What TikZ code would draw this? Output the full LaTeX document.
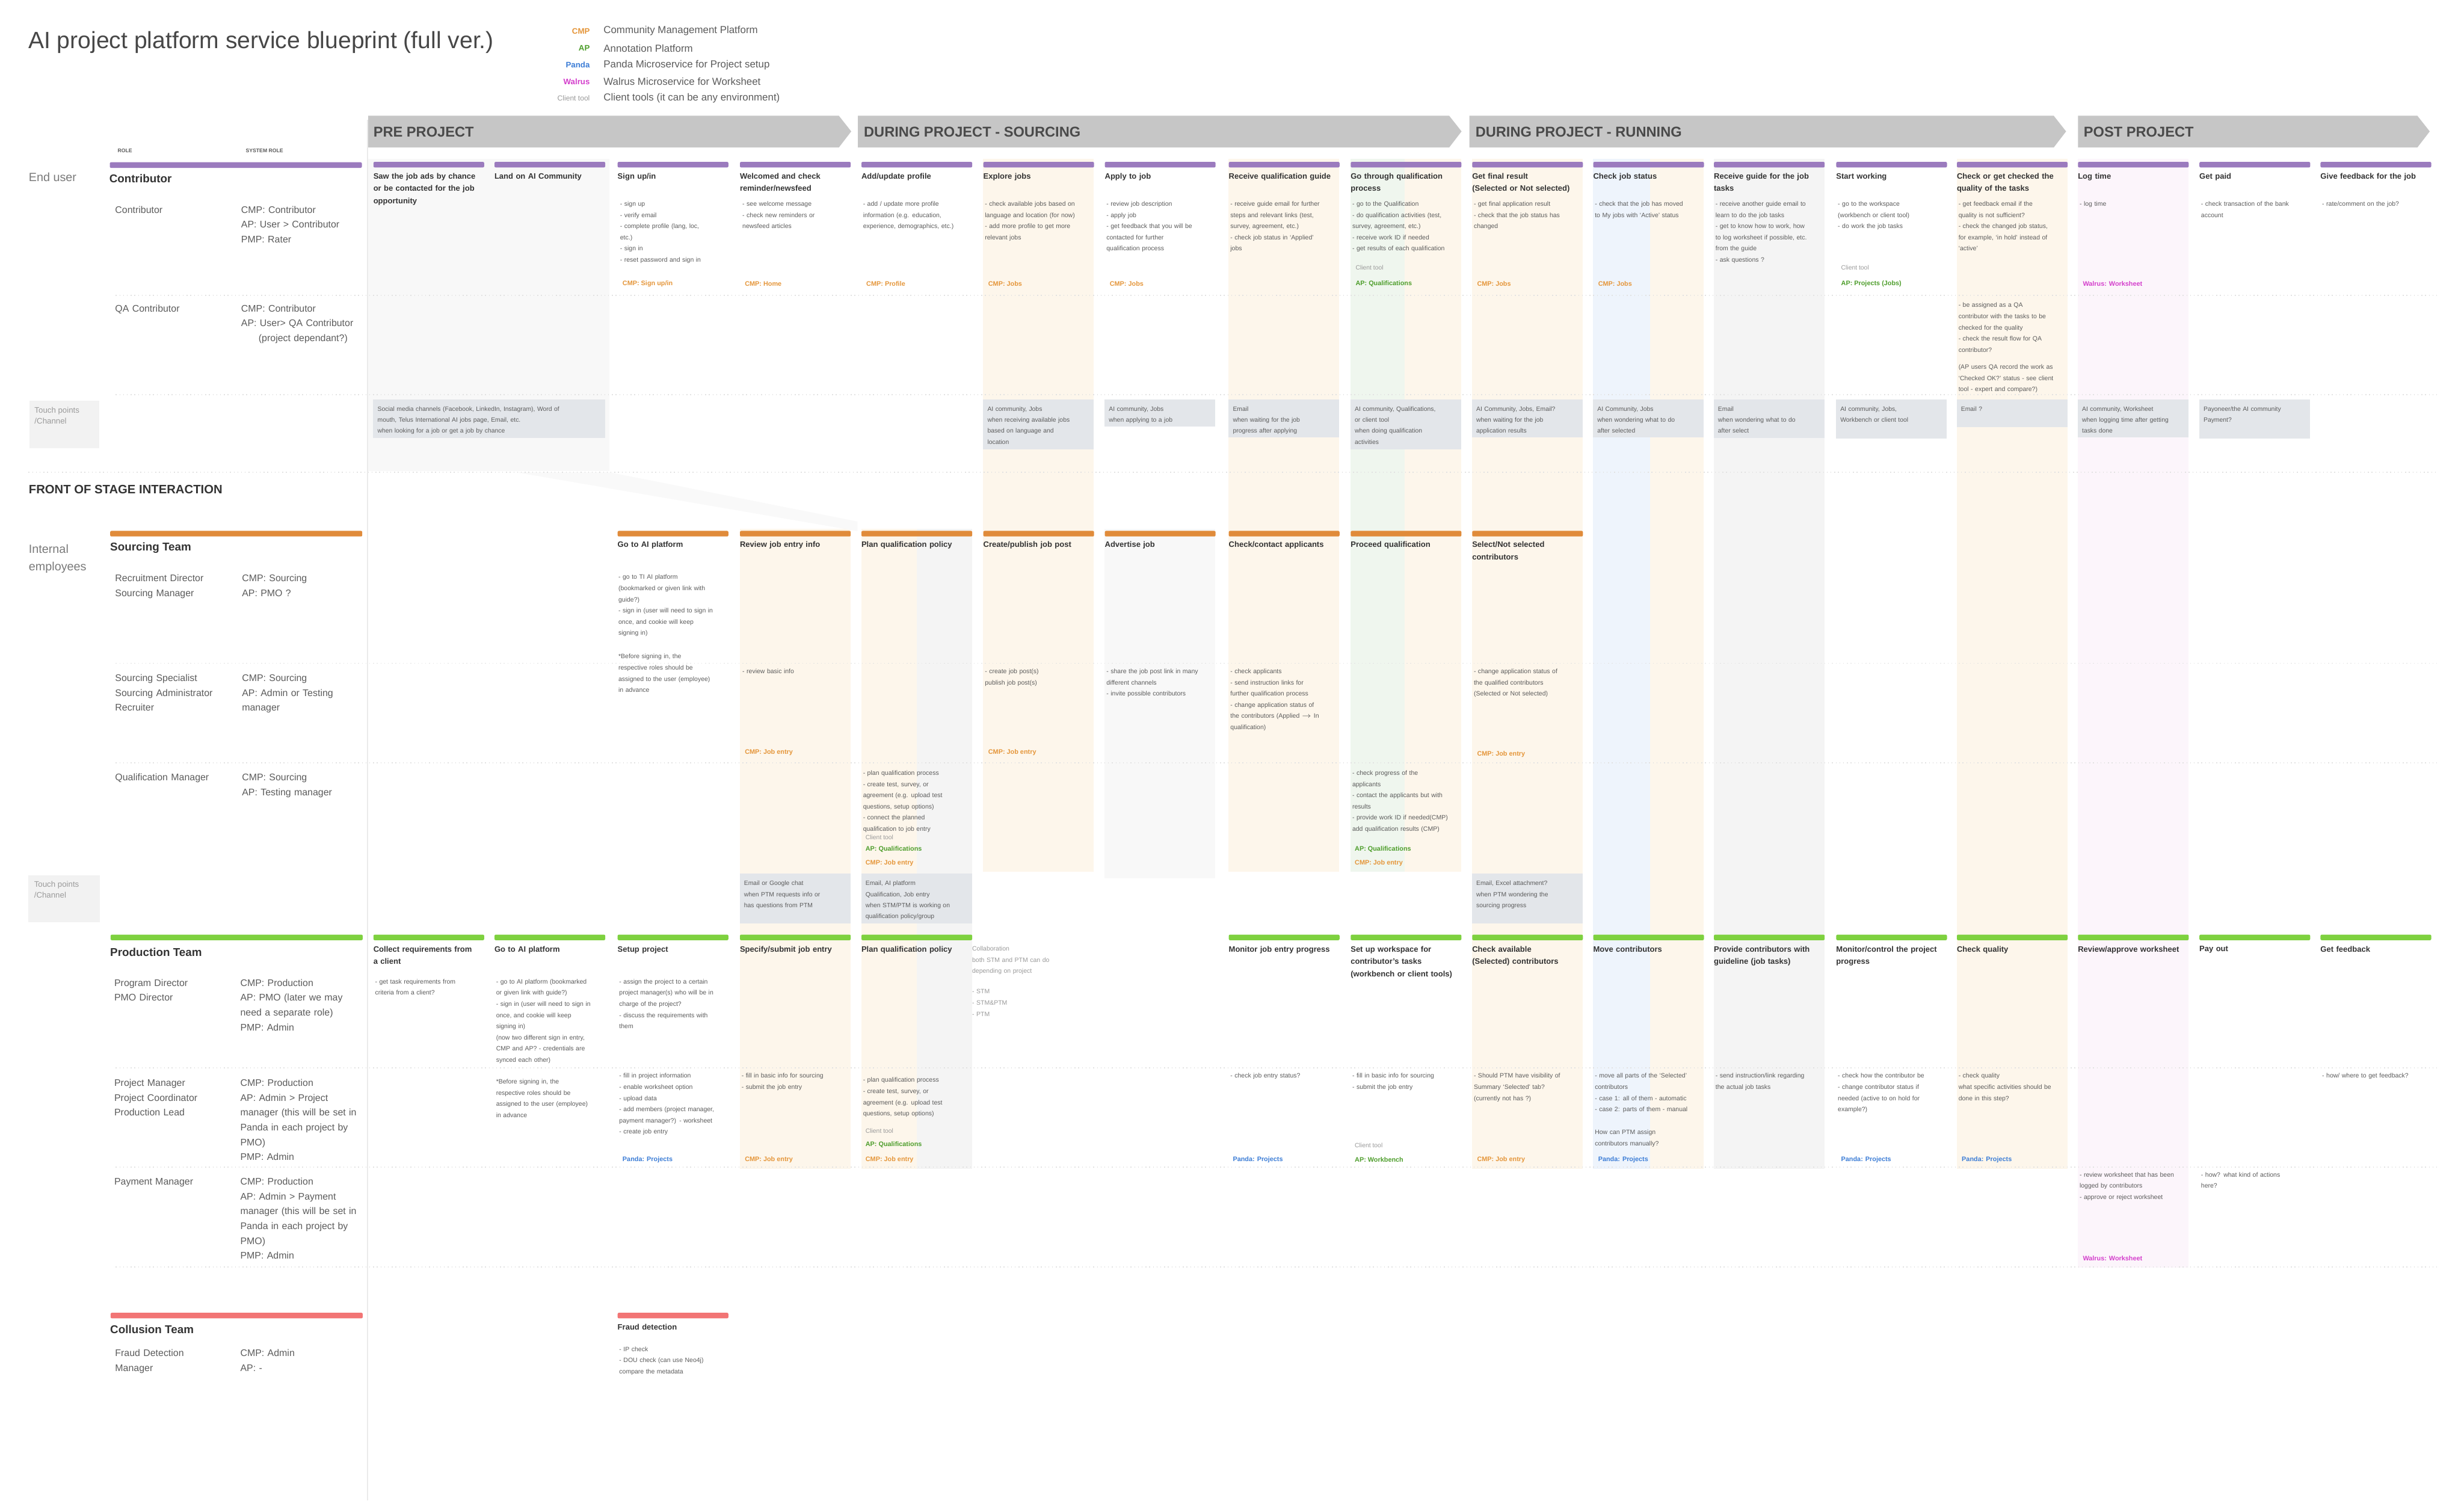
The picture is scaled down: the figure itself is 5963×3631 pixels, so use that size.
\documentclass[tikz,border=0pt]{standalone}
\usepackage{fontspec}
\setmainfont{Liberation Sans}
\newcommand\myfs[2]{\fontsize{#1}{#2}\selectfont}
\definecolor{purplebar}{HTML}{9B7BBE}
\definecolor{orangebar}{HTML}{E08B3A}
\definecolor{greenbar}{HTML}{7ED13F}
\definecolor{redbar}{HTML}{F27575}
\definecolor{phasegray}{HTML}{C6C6C6}
\definecolor{phasetext}{HTML}{4A4A4A}
\definecolor{titlec}{HTML}{333333}
\definecolor{bodyc}{HTML}{5C5C5C}
\definecolor{labelc}{HTML}{7A7A7A}
\definecolor{cmpc}{HTML}{E5963A}
\definecolor{apc}{HTML}{4E9E2C}
\definecolor{pandac}{HTML}{3C7DD6}
\definecolor{walrusc}{HTML}{D43FCC}
\definecolor{toolc}{HTML}{9A9A9A}
\definecolor{bgor}{HTML}{FDF6EB}
\definecolor{bggr}{HTML}{EFF6EE}
\definecolor{bgbl}{HTML}{EEF4FC}
\definecolor{bggy}{HTML}{F4F4F4}
\definecolor{bglg}{HTML}{F8F8F8}
\definecolor{bgpk}{HTML}{FCF5FB}
\definecolor{tpfill}{HTML}{E3E6EA}
\definecolor{tpleft}{HTML}{F2F2F2}
\definecolor{sepc}{HTML}{E2E2E2}
\begin{document}
\begin{tikzpicture}[x=0.1mm,y=-0.1mm,
  ctitle/.style={anchor=north west,inner sep=0pt,text width=80pt,align=left,font=\bfseries\myfs{5.4}{8.5},text=titlec},
  cbody/.style={anchor=north west,inner sep=0pt,text width=84pt,align=left,font=\myfs{4.35}{7.7},text=bodyc},
  ctag/.style={anchor=west,inner sep=0pt,font=\bfseries\myfs{4.5}{5}},
  ctool/.style={anchor=west,inner sep=0pt,font=\myfs{4.3}{5},text=toolc},
  tptext/.style={anchor=north west,inner sep=0pt,text width=80pt,align=left,font=\myfs{4.3}{7.6},text=bodyc},
  roletext/.style={anchor=north west,inner sep=0pt,text width=95pt,align=left,font=\myfs{6.6}{10.2},text=bodyc},
  team/.style={anchor=west,inner sep=0pt,font=\bfseries\myfs{7.8}{9},text=titlec},
  grouplbl/.style={anchor=north west,inner sep=0pt,align=left,font=\myfs{8.2}{12},text=labelc},
  phaselbl/.style={anchor=west,inner sep=0pt,font=\bfseries\myfs{9.8}{11},text=phasetext},
  sepline/.style={draw=sepc,line width=0.2mm,dotted},
  barnode/.style={anchor=north west,inner sep=0pt,minimum width=26.8mm,minimum height=1.35mm,rounded corners=0.3mm},
  leftbar/.style={anchor=north west,inner sep=0pt,minimum width=61mm,minimum height=1.35mm,rounded corners=0.3mm},
  legkey/.style={anchor=east,inner sep=0pt,font=\bfseries\myfs{5.5}{6}},
  legdesc/.style={anchor=west,inner sep=0pt,font=\myfs{7}{8},text=bodyc},
  tpl/.style={anchor=north west,inner sep=0pt,align=left,font=\myfs{5.5}{7.5},text=toolc}
]
\useasboundingbox (0,0) rectangle (5963,3631);
\fill[white] (0,0) rectangle (5963,3631);

% ---------- column background stripes ----------
\fill[bglg] (890,385) rectangle (1475,1140);
\fill[bgor] (1790,1280) rectangle (2058,2828);
\fill[bgor] (2084,1280) rectangle (2218,2828);
\fill[bggy] (2218,1280) rectangle (2352,2828);
\fill[bgor] (2379,385) rectangle (2647,2110);
\fill[bglg] (2673,1280) rectangle (2941,2125);
\fill[bgor] (2973,385) rectangle (3241,2110);
\fill[bggr] (3268,385) rectangle (3400,2110);
\fill[bgor] (3400,385) rectangle (3536,2110);
\fill[bgor] (3562,385) rectangle (3830,2828);
\fill[bgbl] (3855,385) rectangle (3993,2828);
\fill[bgor] (3993,385) rectangle (4123,2828);
\fill[bggy] (4147,385) rectangle (4415,2828);
\fill[bgor] (4735,385) rectangle (5003,2828);
\fill[bgpk] (5028,385) rectangle (5296,3067);
\fill[black!2.5] (1250,1143) -- (1475,1143) -- (2075,1262) -- (2075,1285) -- cycle;

% vertical guide line
\draw[draw=black!8,line width=0.3mm] (890,290) -- (890,3631);

% separators
\draw[sepline] (280,715) -- (5900,715);
\draw[sepline] (280,955) -- (5900,955);
\draw[sepline] (69,1143) -- (5900,1143);
\draw[sepline] (280,1605) -- (5900,1605);
\draw[sepline] (280,1846) -- (5900,1846);
\draw[sepline] (280,2584) -- (5900,2584);
\draw[sepline] (280,2824) -- (5900,2824);
\draw[sepline] (280,3066) -- (5900,3066);

% ---------- title & legend ----------
\node[anchor=west,inner sep=0pt,font=\myfs{16.2}{18},text=titlec!90] (title) at (68,102) {AI project platform service blueprint (full ver.)};
\node[legkey,text=cmpc] (lk1) at (1428,75) {CMP};
\node[legkey,text=apc] (lk2) at (1428,117) {AP};
\node[legkey,text=pandac] (lk3) at (1428,157) {Panda};
\node[legkey,text=walrusc] (lk4) at (1428,197) {Walrus};
\node[legkey,text=toolc,font=\myfs{5}{6}] (lk5) at (1428,238) {Client tool};
\node[legdesc] (ld1) at (1460,75) {Community Management Platform};
\node[legdesc] (ld2) at (1460,117) {Annotation Platform};
\node[legdesc] (ld3) at (1460,157) {Panda Microservice for Project setup};
\node[legdesc] (ld4) at (1460,197) {Walrus Microservice for Worksheet};
\node[legdesc] (ld5) at (1460,238) {Client tools (it can be any environment)};

% ---------- phase arrows ----------
\fill[phasegray] (891,280) -- (2030,280) -- (2060,318) -- (2030,357) -- (891,357) -- cycle;
\fill[phasegray] (2076,280) -- (3507,280) -- (3537,318) -- (3507,357) -- (2076,357) -- cycle;
\fill[phasegray] (3556,280) -- (4970,280) -- (5000,318) -- (4970,357) -- (3556,357) -- cycle;
\fill[phasegray] (5029,280) -- (5850,280) -- (5880,318) -- (5850,357) -- (5029,357) -- cycle;
\node[phaselbl] (ph1) at (903,320) {PRE PROJECT};
\node[phaselbl] (ph2) at (2090,320) {DURING PROJECT - SOURCING};
\node[phaselbl] (ph3) at (3570,320) {DURING PROJECT - RUNNING};
\node[phaselbl] (ph4) at (5042,320) {POST PROJECT};

% ---------- bars ----------
\node[leftbar,fill=purplebar] (lbp) at (265,392) {};
\foreach \x [count=\i] in {903,1196,1494,1790,2084,2379,2673,2973,3268,3562,3855,4147,4443,4735,5028,5322,5615}
  {\node[barnode,fill=purplebar] (pbar\i) at (\x,391) {};}
\node[leftbar,fill=orangebar] (lbo) at (266,1284) {};
\foreach \x [count=\i from 3] in {1494,1790,2084,2379,2673,2973,3268,3562}
  {\node[barnode,fill=orangebar] (obar\i) at (\x,1284) {};}
\node[leftbar,fill=greenbar] (lbg) at (267,2261) {};
\foreach \x [count=\i] in {903,1196,1494,1790,2084}
  {\node[barnode,fill=greenbar] (gbar\i) at (\x,2261) {};}
\foreach \x [count=\i from 8] in {2973,3268,3562,3855,4147,4443,4735,5028,5322,5615}
  {\node[barnode,fill=greenbar] (gbar\i) at (\x,2261) {};}
\node[leftbar,fill=redbar] (lbr) at (267,3176) {};
\node[barnode,fill=redbar] (rbar3) at (1494,3176) {};

% ---------- left labels ----------
\node[anchor=west,inner sep=0pt,font=\bfseries\myfs{3.6}{4},text=bodyc] (hrole) at (284,364) {ROLE};
\node[anchor=west,inner sep=0pt,font=\bfseries\myfs{3.6}{4},text=bodyc] (hsys) at (594,364) {SYSTEM ROLE};
\node[grouplbl] (gEnd) at (69,418) {End user};
\node[team] (tmC) at (264,432) {Contributor};
\node[roletext] (rC1) at (278,498) {Contributor};
\node[roletext] (sC1) at (583,498) {CMP: Contributor\\AP: User > Contributor\\PMP: Rater};
\node[roletext] (rC2) at (278,737) {QA Contributor};
\node[roletext] (sC2) at (583,737) {CMP: Contributor\\AP: User> QA Contributor\\\hspace*{12pt}(project dependant?)};
\fill[tpleft] (72,970) rectangle (240,1085);
\node[tpl] (tpL1) at (83,984) {Touch points\\/Channel};

\node[anchor=west,inner sep=0pt,font=\bfseries\myfs{8.4}{9},text=titlec] (fos) at (69,1184) {FRONT OF STAGE INTERACTION};
\node[grouplbl] (gInt) at (69,1317) {Internal\\employees};
\node[team] (tmS) at (266,1326) {Sourcing Team};
\node[roletext] (rS1) at (278,1390) {Recruitment Director\\Sourcing Manager};
\node[roletext] (sS1) at (585,1390) {CMP: Sourcing\\AP: PMO ?};
\node[roletext] (rS2) at (278,1631) {Sourcing Specialist\\Sourcing Administrator\\Recruiter};
\node[roletext] (sS2) at (585,1631) {CMP: Sourcing\\AP: Admin or Testing\\manager};
\node[roletext] (rS3) at (278,1872) {Qualification Manager};
\node[roletext] (sS3) at (585,1872) {CMP: Sourcing\\AP: Testing manager};
\fill[tpleft] (69,2118) rectangle (241,2232);
\node[tpl] (tpL2) at (82,2132) {Touch points\\/Channel};

\node[team] (tmP) at (266,2304) {Production Team};
\node[roletext] (rP1) at (276,2369) {Program Director\\PMO Director};
\node[roletext] (sP1) at (581,2369) {CMP: Production\\AP: PMO (later we may\\need a separate role)\\PMP: Admin};
\node[roletext] (rP2) at (276,2611) {Project Manager\\Project Coordinator\\Production Lead};
\node[roletext] (sP2) at (581,2611) {CMP: Production\\AP: Admin > Project\\manager (this will be set in\\Panda in each project by\\PMO)\\PMP: Admin};
\node[roletext] (rP3) at (276,2850) {Payment Manager};
\node[roletext] (sP3) at (581,2850) {CMP: Production\\AP: Admin > Payment\\manager (this will be set in\\Panda in each project by\\PMO)\\PMP: Admin};

\node[team] (tmF) at (266,3217) {Collusion Team};
\node[roletext] (rF1) at (278,3265) {Fraud Detection\\Manager};
\node[roletext] (sF1) at (581,3265) {CMP: Admin\\AP: -};

% ---------- END USER: titles ----------
\node[ctitle] (eT1) at (903,418) {Saw the job ads by chance\\or be contacted for the job\\opportunity};
\node[ctitle] (eT2) at (1196,418) {Land on AI Community};
\node[ctitle] (eT3) at (1494,418) {Sign up/in};
\node[ctitle] (eT4) at (1790,418) {Welcomed and check\\reminder/newsfeed};
\node[ctitle] (eT5) at (2084,418) {Add/update profile};
\node[ctitle] (eT6) at (2379,418) {Explore jobs};
\node[ctitle] (eT7) at (2673,418) {Apply to job};
\node[ctitle] (eT8) at (2973,418) {Receive qualification guide};
\node[ctitle] (eT9) at (3268,418) {Go through qualification\\process};
\node[ctitle] (eT10) at (3562,418) {Get final result\\(Selected or Not selected)};
\node[ctitle] (eT11) at (3855,418) {Check job status};
\node[ctitle] (eT12) at (4147,418) {Receive guide for the job\\tasks};
\node[ctitle] (eT13) at (4443,418) {Start working};
\node[ctitle] (eT14) at (4735,418) {Check or get checked the\\quality of the tasks};
\node[ctitle] (eT15) at (5028,418) {Log time};
\node[ctitle] (eT16) at (5322,418) {Get paid};
\node[ctitle] (eT17) at (5615,418) {Give feedback for the job};

% ---------- END USER: bodies ----------
\node[cbody] (eB3) at (1500,487) {- sign up\\- verify email\\- complete profile (lang, loc,\\etc.)\\- sign in\\- reset password and sign in};
\node[cbody] (eB4) at (1796,487) {- see welcome message\\- check new reminders or\\newsfeed articles};
\node[cbody] (eB5) at (2088,487) {- add / update more profile\\information (e.g. education,\\experience, demographics, etc.)};
\node[cbody] (eB6) at (2383,487) {- check available jobs based on\\language and location (for now)\\- add more profile to get more\\relevant jobs};
\node[cbody] (eB7) at (2677,487) {- review job description\\- apply job\\- get feedback that you will be\\contacted for further\\qualification process};
\node[cbody] (eB8) at (2977,487) {- receive guide email for further\\steps and relevant links (test,\\survey, agreement, etc.)\\- check job status in `Applied'\\jobs};
\node[cbody] (eB9) at (3272,487) {- go to the Qualification\\- do qualification activities (test,\\survey, agreement, etc.)\\- receive work ID if needed\\- get results of each qualification};
\node[cbody] (eB10) at (3566,487) {- get final application result\\- check that the job status has\\changed};
\node[cbody] (eB11) at (3859,487) {- check that the job has moved\\to My jobs with `Active' status};
\node[cbody] (eB12) at (4151,487) {- receive another guide email to\\learn to do the job tasks\\- get to know how to work, how\\to log worksheet if possible, etc.\\from the guide\\- ask questions ?};
\node[cbody] (eB13) at (4447,487) {- go to the workspace\\(workbench or client tool)\\- do work the job tasks};
\node[cbody] (eB14) at (4739,487) {- get feedback email if the\\quality is not sufficient?\\- check the changed job status,\\for example, `in hold' instead of\\`active'};
\node[cbody] (eB15) at (5032,487) {- log time};
\node[cbody] (eB16) at (5326,487) {- check transaction of the bank\\account};
\node[cbody] (eB17) at (5619,487) {- rate/comment on the job?};
\node[cbody] (eQ14) at (4739,732) {- be assigned as a QA\\contributor with the tasks to be\\checked for the quality\\- check the result flow for QA\\contributor?\\[4pt](AP users QA record the work as\\`Checked OK?' status - see client\\tool - expert and compare?)};

% tags
\node[ctag,text=cmpc] (eG3) at (1506,687) {CMP: Sign up/in};
\node[ctag,text=cmpc] (eG4) at (1802,687) {CMP: Home};
\node[ctag,text=cmpc] (eG5) at (2096,687) {CMP: Profile};
\node[ctag,text=cmpc] (eG6) at (2391,687) {CMP: Jobs};
\node[ctag,text=cmpc] (eG7) at (2685,687) {CMP: Jobs};
\node[ctool] (eC9) at (3280,648) {Client tool};
\node[ctag,text=apc] (eG9) at (3280,687) {AP: Qualifications};
\node[ctag,text=cmpc] (eG10) at (3574,687) {CMP: Jobs};
\node[ctag,text=cmpc] (eG11) at (3867,687) {CMP: Jobs};
\node[ctool] (eC13) at (4455,648) {Client tool};
\node[ctag,text=apc] (eG13) at (4455,687) {AP: Projects (Jobs)};
\node[ctag,text=walrusc] (eG15) at (5040,687) {Walrus: Worksheet};

% touch points (end user)
\fill[tpfill] (903,967) rectangle (1465,1060);
\node[tptext,text width=158pt] (eP1) at (913,983) {Social media channels (Facebook, LinkedIn, Instagram), Word of\\mouth, Telus International AI jobs page, Email, etc.\\when looking for a job or get a job by chance};
\fill[tpfill] (2379,967) rectangle (2647,1087);
\node[tptext] (eP6) at (2389,983) {AI community, Jobs\\when receiving available jobs\\based on language and\\location};
\fill[tpfill] (2673,967) rectangle (2941,1032);
\node[tptext] (eP7) at (2683,983) {AI community, Jobs\\when applying to a job};
\fill[tpfill] (2973,967) rectangle (3241,1058);
\node[tptext] (eP8) at (2983,983) {Email\\when waiting for the job\\progress after applying};
\fill[tpfill] (3268,967) rectangle (3536,1087);
\node[tptext] (eP9) at (3278,983) {AI community, Qualifications,\\or client tool\\when doing qualification\\activities};
\fill[tpfill] (3562,967) rectangle (3830,1058);
\node[tptext] (eP10) at (3572,983) {AI Community, Jobs, Email?\\when waiting for the job\\application results};
\fill[tpfill] (3855,967) rectangle (4123,1058);
\node[tptext] (eP11) at (3865,983) {AI Community, Jobs\\when wondering what to do\\after selected};
\fill[tpfill] (4147,967) rectangle (4415,1060);
\node[tptext] (eP12) at (4157,983) {Email\\when wondering what to do\\after select};
\fill[tpfill] (4443,967) rectangle (4711,1062);
\node[tptext] (eP13) at (4453,983) {AI community, Jobs,\\Workbench or client tool};
\fill[tpfill] (4735,967) rectangle (5003,1033);
\node[tptext] (eP14) at (4745,983) {Email ?};
\fill[tpfill] (5028,967) rectangle (5296,1058);
\node[tptext] (eP15) at (5038,983) {AI community, Worksheet\\when logging time after getting\\tasks done};
\fill[tpfill] (5322,967) rectangle (5590,1062);
\node[tptext] (eP16) at (5332,983) {Payoneer/the AI community\\Payment?};

% ---------- SOURCING ----------
\node[ctitle] (sT3) at (1494,1310) {Go to AI platform};
\node[ctitle] (sT4) at (1790,1310) {Review job entry info};
\node[ctitle] (sT5) at (2084,1310) {Plan qualification policy};
\node[ctitle] (sT6) at (2379,1310) {Create/publish job post};
\node[ctitle] (sT7) at (2673,1310) {Advertise job};
\node[ctitle] (sT8) at (2973,1310) {Check/contact applicants};
\node[ctitle] (sT9) at (3268,1310) {Proceed qualification};
\node[ctitle] (sT10) at (3562,1310) {Select/Not selected\\contributors};

\node[cbody] (sB3) at (1496,1390) {- go to TI AI platform\\(bookmarked or given link with\\guide?)\\- sign in (user will need to sign in\\once, and cookie will keep\\signing in)\\[8.5pt]*Before signing in, the\\respective roles should be\\assigned to the user (employee)\\in advance};
\node[cbody] (sB4) at (1796,1618) {- review basic info};
\node[ctag,text=cmpc] (sG4) at (1802,1821) {CMP: Job entry};
\node[cbody] (sB6) at (2383,1618) {- create job post(s)\\publish job post(s)};
\node[ctag,text=cmpc] (sG6) at (2391,1821) {CMP: Job entry};
\node[cbody] (sB7) at (2677,1618) {- share the job post link in many\\different channels\\- invite possible contributors};
\node[cbody] (sB8) at (2977,1618) {- check applicants\\- send instruction links for\\further qualification process\\- change application status of\\the contributors (Applied $\rightarrow$ In\\qualification)};
\node[cbody] (sB10) at (3566,1618) {- change application status of\\the qualified contributors\\(Selected or Not selected)};
\node[ctag,text=cmpc] (sG10) at (3574,1825) {CMP: Job entry};

\node[cbody] (sB5) at (2088,1864) {- plan qualification process\\- create test, survey, or\\agreement (e.g. upload test\\questions, setup options)\\- connect the planned\\qualification to job entry};
\node[ctool] (sC5) at (2094,2026) {Client tool};
\node[ctag,text=apc] (sG5a) at (2094,2055) {AP: Qualifications};
\node[ctag,text=cmpc] (sG5b) at (2094,2089) {CMP: Job entry};
\node[cbody] (sB9) at (3272,1864) {- check progress of the\\applicants\\- contact the applicants but with\\results\\- provide work ID if needed(CMP)\\add qualification results (CMP)};
\node[ctag,text=apc] (sG9a) at (3278,2055) {AP: Qualifications};
\node[ctag,text=cmpc] (sG9b) at (3278,2089) {CMP: Job entry};

\fill[tpfill] (1790,2114) rectangle (2058,2235);
\node[tptext] (sP4) at (1800,2131) {Email or Google chat\\when PTM requests info or\\has questions from PTM};
\fill[tpfill] (2084,2114) rectangle (2352,2235);
\node[tptext] (sP5) at (2094,2131) {Email, AI platform\\Qualification, Job entry\\when STM/PTM is working on\\qualification policy/group};
\fill[tpfill] (3562,2114) rectangle (3830,2235);
\node[tptext] (sP10) at (3572,2131) {Email, Excel attachment?\\when PTM wondering the\\sourcing progress};

% ---------- PRODUCTION ----------
\node[ctitle] (pT1) at (903,2289) {Collect requirements from\\a client};
\node[ctitle] (pT2) at (1196,2289) {Go to AI platform};
\node[ctitle] (pT3) at (1494,2289) {Setup project};
\node[ctitle] (pT4) at (1790,2289) {Specify/submit job entry};
\node[ctitle] (pT5) at (2084,2289) {Plan qualification policy};
\node[cbody,text=toolc] (pN6) at (2352,2289) {Collaboration\\both STM and PTM can do\\depending on project\\[6.5pt]- STM\\- STM\&PTM\\- PTM};
\node[ctitle] (pT8) at (2973,2289) {Monitor job entry progress};
\node[ctitle] (pT9) at (3268,2289) {Set up workspace for\\contributor's tasks\\(workbench or client tools)};
\node[ctitle] (pT10) at (3562,2289) {Check available\\(Selected) contributors};
\node[ctitle] (pT11) at (3855,2289) {Move contributors};
\node[ctitle] (pT12) at (4147,2289) {Provide contributors with\\guideline (job tasks)};
\node[ctitle] (pT13) at (4443,2289) {Monitor/control the project\\progress};
\node[ctitle] (pT14) at (4735,2289) {Check quality};
\node[ctitle] (pT15) at (5028,2289) {Review/approve worksheet};
\node[ctitle] (pT16) at (5322,2289) {Pay out};
\node[ctitle] (pT17) at (5615,2289) {Get feedback};

\node[cbody] (pB1) at (907,2369) {- get task requirements from\\criteria from a client?};
\node[cbody] (pB2) at (1200,2369) {- go to AI platform (bookmarked\\or given link with guide?)\\- sign in (user will need to sign in\\once, and cookie will keep\\signing in)\\(now two different sign in entry,\\CMP and AP? - credentials are\\synced each other)};
\node[cbody] (pB3) at (1498,2369) {- assign the project to a certain\\project manager(s) who will be in\\charge of the project?\\- discuss the requirements with\\them};

\node[cbody] (pR2) at (1200,2611) {*Before signing in, the\\respective roles should be\\assigned to the user (employee)\\in advance};
\node[cbody] (pR3) at (1498,2597) {- fill in project information\\- enable worksheet option\\- upload data\\- add members (project manager,\\payment manager?) - worksheet\\- create job entry};
\node[ctag,text=pandac] (pG3) at (1506,2806) {Panda: Projects};
\node[cbody] (pR4) at (1794,2597) {- fill in basic info for sourcing\\- submit the job entry};
\node[ctag,text=cmpc] (pG4) at (1802,2806) {CMP: Job entry};
\node[cbody] (pR5) at (2088,2607) {- plan qualification process\\- create test, survey, or\\agreement (e.g. upload test\\questions, setup options)};
\node[ctool] (pC5) at (2094,2736) {Client tool};
\node[ctag,text=apc] (pG5a) at (2094,2770) {AP: Qualifications};
\node[ctag,text=cmpc] (pG5b) at (2094,2806) {CMP: Job entry};
\node[cbody] (pR8) at (2977,2597) {- check job entry status?};
\node[ctag,text=pandac] (pG8) at (2983,2806) {Panda: Projects};
\node[cbody] (pR9) at (3272,2597) {- fill in basic info for sourcing\\- submit the job entry};
\node[ctool] (pC9) at (3278,2771) {Client tool};
\node[ctag,text=apc] (pG9) at (3278,2806) {AP: Workbench};
\node[cbody] (pR10) at (3566,2597) {- Should PTM have visibility of\\Summary `Selected' tab?\\(currently not has ?)};
\node[ctag,text=cmpc] (pG10) at (3574,2806) {CMP: Job entry};
\node[cbody] (pR11) at (3859,2597) {- move all parts of the `Selected'\\contributors\\- case 1: all of them - automatic\\- case 2: parts of them - manual\\[8pt]How can PTM assign\\contributors manually?};
\node[ctag,text=pandac] (pG11) at (3867,2806) {Panda: Projects};
\node[cbody] (pR12) at (4151,2597) {- send instruction/link regarding\\the actual job tasks};
\node[cbody] (pR13) at (4447,2597) {- check how the contributor be\\- change contributor status if\\needed (active to on hold for\\example?)};
\node[ctag,text=pandac] (pG13) at (4455,2806) {Panda: Projects};
\node[cbody] (pR14) at (4739,2597) {- check quality\\what specific activities should be\\done in this step?};
\node[ctag,text=pandac] (pG14) at (4747,2806) {Panda: Projects};
\node[cbody] (pR17) at (5619,2597) {- how/ where to get feedback?};

\node[cbody] (pS15) at (5032,2836) {- review worksheet that has been\\logged by contributors\\- approve or reject worksheet};
\node[ctag,text=walrusc] (pG15) at (5040,3045) {Walrus: Worksheet};
\node[cbody] (pS16) at (5326,2836) {- how? what kind of actions\\here?};

% ---------- COLLUSION ----------
\node[ctitle] (fT3) at (1494,3203) {Fraud detection};
\node[cbody] (fB3) at (1498,3258) {- IP check\\- DOU check (can use Neo4j)\\compare the metadata};
\end{tikzpicture}
\end{document}
